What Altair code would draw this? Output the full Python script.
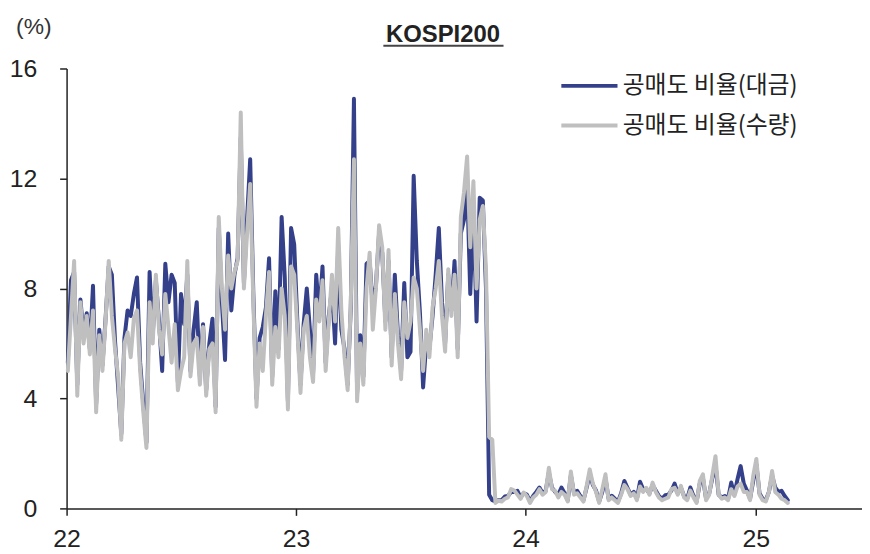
import altair as alt
import pandas as pd

TITLE = "KOSPI200"
UNIT = "(%)"
SERIES = ["공매도 비율(대금)", "공매도 비율(수량)"]
COLORS = ["#34408a", "#bfbfbf"]
START = "2022-01-03"
STEP = "5D"
Y_TICKS = [0, 4, 8, 12, 16]
X_TICK_YEARS = [2022, 2023, 2024, 2025]

# 공매도 비율(대금)
navy = [
    5.3, 8.3, 8.6, 4.5, 7.6, 6.3, 7.1, 5.8, 8.1, 3.8,
    6.5, 5.2, 6.9, 8.8, 8.5, 6.1, 4.4, 2.7, 6.2, 7.2,
    7.0, 7.8, 8.4, 5.3, 3.8, 2.4, 8.6, 6.3, 8.3, 6.8,
    5.0, 8.9, 7.5, 8.5, 8.2, 4.6, 7.8, 6.7, 8.5, 5.0,
    6.5, 7.5, 4.8, 6.7, 4.3, 6.0, 6.9, 3.7, 10.2, 7.5,
    5.4, 10.0, 7.2, 8.5, 9.1, 13.5, 8.2, 10.5, 12.7, 7.8,
    4.0, 6.2, 6.6, 7.3, 9.1, 4.8, 7.9, 5.8, 10.6, 8.4,
    3.9, 10.2, 9.6, 6.8, 4.5, 6.7, 8.0, 6.5, 4.9, 8.5,
    7.0, 8.8, 5.3, 7.0, 8.0, 6.0, 9.5, 6.5, 5.8, 4.5,
    7.3, 14.9, 4.2, 6.3, 4.8, 8.9, 9.0, 7.3, 8.1, 10.0,
    9.3, 6.8, 9.0, 5.5, 8.5, 6.3, 5.0, 8.2, 5.5, 5.7,
    12.1, 9.0, 7.1, 4.4, 6.0, 5.8, 7.0, 8.5, 10.2, 7.5,
    6.0, 8.5, 7.2, 9.0, 5.8, 10.0, 10.5, 11.8, 7.8, 11.0,
    6.8, 11.3, 11.2, 8.0, 0.5, 0.3,
    0.25, 0.3, 0.3, 0.43, 0.45, 0.6, 0.6, 0.64, 0.4, 0.55,
    0.5, 0.25, 0.45, 0.6, 0.76, 0.55, 0.65, 1.3, 0.75, 0.6,
    0.5, 0.76, 0.55, 0.3, 1.2, 0.55, 0.64, 0.45, 0.3, 0.75,
    1.25, 0.85, 0.65, 0.25, 0.6, 1.1, 0.35, 0.46, 0.35, 0.25,
    0.55, 1.0, 0.75, 0.5, 0.6, 0.35, 0.97, 0.7, 0.7, 0.55,
    0.85, 0.65, 0.45, 0.35, 0.48, 0.5, 0.65, 0.9, 0.55, 0.75,
    0.45, 0.35, 0.76, 0.45, 0.25, 0.9, 1.1, 0.35, 0.55, 1.1,
    1.6, 0.5, 0.4, 0.45, 0.35, 0.94, 0.5, 1.06, 1.54, 0.9,
    0.65, 0.35, 1.0, 1.6, 0.55, 0.35, 0.3, 0.6, 1.2, 0.76,
    0.6, 0.64, 0.45, 0.3,
]

# 공매도 비율(수량)
grey = [
    5.0, 7.0, 9.0, 4.1, 7.5, 6.0, 7.0, 5.6, 7.2, 3.5,
    6.3, 5.0, 6.8, 9.0, 7.0, 5.8, 4.8, 2.5, 6.0, 6.4,
    5.5, 6.9, 7.2, 5.0, 3.5, 2.2, 7.5, 6.0, 8.5, 6.5,
    5.6, 7.8, 6.6, 5.3, 6.7, 4.3, 5.0, 5.5, 9.0, 4.8,
    6.0, 6.2, 4.5, 6.6, 4.1, 5.8, 6.0, 3.5, 10.6, 8.0,
    6.5, 9.2, 8.0, 8.6, 9.0, 14.4, 8.0, 10.0, 11.8, 7.5,
    3.7, 6.0, 5.0, 7.0, 8.6, 4.5, 6.6, 5.5, 8.0, 7.0,
    3.6, 8.8, 8.5, 6.5, 4.2, 6.5, 7.0, 5.5, 4.6, 7.6,
    6.8, 8.3, 5.0, 6.8, 8.5, 6.8, 10.2, 7.2, 5.5, 4.3,
    7.5, 12.7, 3.9, 6.0, 4.5, 8.0, 9.3, 6.5, 8.0, 10.3,
    9.5, 6.5, 9.4, 5.2, 7.8, 6.0, 4.7, 7.5, 6.2, 6.8,
    8.4, 8.0, 6.5, 5.0, 6.5, 5.5, 7.3, 8.0, 9.0, 7.0,
    5.7, 8.7, 7.0, 8.5, 5.5, 10.6, 11.5, 12.8, 9.5, 11.9,
    8.0, 10.5, 11.0, 8.7, 2.6, 2.5,
    0.2, 0.28, 0.25, 0.35, 0.4, 0.7, 0.65, 0.5, 0.35, 0.58,
    0.45, 0.2, 0.4, 0.5, 0.7, 0.5, 0.6, 1.48, 0.7, 0.64,
    0.4, 0.6, 0.5, 0.25, 1.34, 0.5, 0.55, 0.4, 0.25, 0.8,
    1.42, 0.9, 0.6, 0.2, 0.7, 1.24, 0.3, 0.4, 0.3, 0.2,
    0.5, 0.85, 0.7, 0.45, 0.55, 0.3, 0.8, 0.6, 0.75, 0.5,
    0.94, 0.6, 0.4, 0.3, 0.35, 0.4, 0.7, 0.75, 0.5, 0.82,
    0.4, 0.3, 0.65, 0.4, 0.2, 1.0, 1.24, 0.3, 0.5, 1.2,
    1.9, 0.5, 0.35, 0.4, 0.3, 0.7, 0.45, 0.8, 0.9, 0.6,
    0.6, 0.3, 1.18, 1.8, 0.5, 0.3, 0.25, 0.6, 1.36, 0.6,
    0.5, 0.35, 0.3, 0.2,
]

n = min(len(navy), len(grey))
dates = list(pd.date_range(START, periods=n, freq=STEP).strftime("%Y-%m-%d"))
df = pd.DataFrame({
    "date": dates + dates,
    "value": navy[:n] + grey[:n],
    "series": [SERIES[0]] * n + [SERIES[1]] * n,
})


def dt(y, m, d):
    return alt.DateTime(year=y, month=m, date=d, utc=True)


x_enc = alt.X(
    "date:T",
    scale=alt.Scale(type="utc", domain=[dt(2022, 1, 1), dt(2025, 6, 19)]),
    axis=alt.Axis(
        values=[dt(y, 1, 1) for y in X_TICK_YEARS],
        labelExpr="utcFormat(datum.value, '%y')",
        title=None,
        grid=False,
        tickSize=7,
        labelPadding=11,
        labelFlush=False,
        labelFontSize=25,
    ),
)
y_enc = alt.Y(
    "value:Q",
    scale=alt.Scale(domain=[0, 16], nice=False),
    axis=alt.Axis(
        values=Y_TICKS,
        title=None,
        grid=False,
        tickSize=7,
        labelPadding=23,
        labelFontSize=25,
    ),
)
legend = alt.Legend(
    title=None,
    orient="none",
    legendX=505,
    legendY=-4,
    symbolType="M-1.45,0H1.45",
    symbolSize=1521,
    symbolStrokeWidth=4,
    labelFontSize=24,
    labelFont="Noto Sans CJK KR",
    labelColor="#222222",
    labelOffset=12,
    labelLimit=400,
    rowPadding=6,
    padding=0,
)
color_enc = alt.Color(
    "series:N",
    scale=alt.Scale(domain=SERIES, range=COLORS),
    legend=legend,
)

base = alt.Chart(df).mark_line(
    strokeWidth=4, strokeJoin="round", strokeCap="round"
).encode(x=x_enc, y=y_enc, color=color_enc)

line_navy = base.transform_filter(alt.datum.series == SERIES[0])
line_grey = base.transform_filter(alt.datum.series == SERIES[1])

title_text = alt.Chart(pd.DataFrame({"t": [TITLE]})).mark_text(
    font="Liberation Sans", fontSize=24, fontWeight="bold",
    align="center", baseline="alphabetic", color="#222222",
).encode(text="t:N", x=alt.value(379), y=alt.value(-27))

underline = alt.Chart(pd.DataFrame({"t": [TITLE]})).mark_rule(
    color="#444444", strokeWidth=2
).encode(x=alt.value(319), x2=alt.value(440), y=alt.value(-23))

unit_text = alt.Chart(pd.DataFrame({"t": [UNIT]})).mark_text(
    font="Liberation Sans", fontSize=23,
    align="center", baseline="middle", color="#333333",
).encode(text="t:N", x=alt.value(-33), y=alt.value(-42))

chart = alt.layer(line_navy, line_grey, title_text, underline, unit_text).properties(
    width=801,
    height=443,
    padding={"left": 59, "top": 59, "right": 0, "bottom": 44},
    autosize=alt.AutoSizeParams(type="none"),
).configure_view(stroke=None).configure_axis(
    domainColor="#222222",
    tickColor="#222222",
    labelColor="#222222",
    labelFont="Liberation Sans",
    domainWidth=1.5,
    tickWidth=1.5,
)

chart.save("out.html", embed_options={"renderer": "svg", "actions": False})
